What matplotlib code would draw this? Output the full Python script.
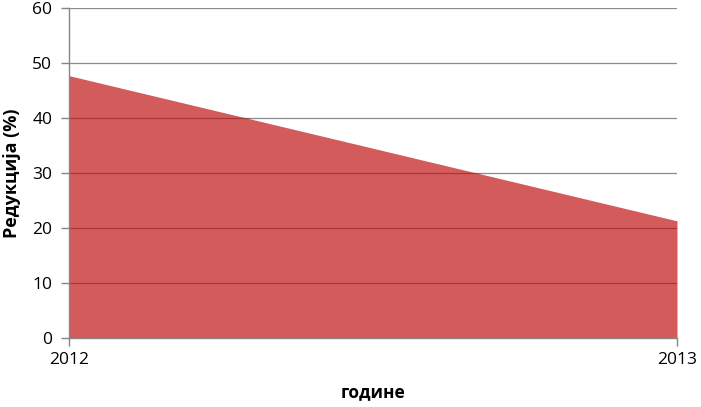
import matplotlib.pyplot as plt

years = [2012, 2013]
reduction = [47.7, 21.3]
y_ticks = [0, 10, 20, 30, 40, 50, 60]

plt.rcParams['font.family'] = ['Open Sans', 'DejaVu Sans']

fig = plt.figure(figsize=(7.01, 4.07), dpi=100)
ax = fig.add_axes([69/701, 1 - 338/407, (677-69)/701, (338-8)/407])

area = ax.fill_between(years, reduction, 0, color='#D45B5B', linewidth=0, zorder=1)
for t in y_ticks[1:]:
    # gray gridline on white, darker red where it crosses the area
    ax.axhline(t, color='#8a8a8a', linewidth=0.9, zorder=0.5)
    ln = ax.axhline(t, color='#a83838', linewidth=0.9, zorder=2)
    ln.set_clip_path(area.get_paths()[0], ax.transData)

ax.set_xlim(2012, 2013)
ax.set_ylim(0, 60)
ax.set_yticks(y_ticks)
ax.set_xticks(years)
ax.set_xticklabels([str(y) for y in years])

for s in ['top', 'right']:
    ax.spines[s].set_visible(False)
for s in ['left', 'bottom']:
    ax.spines[s].set_color('#868686')
    ax.spines[s].set_linewidth(1)
    ax.spines[s].set_zorder(3)

ax.tick_params(axis='both', colors='#868686', labelcolor='black', labelsize=12.5,
               length=6, width=1)
ax.tick_params(axis='y', pad=6)
ax.tick_params(axis='x', pad=4)

ax.set_ylabel('Редукција (%)', fontsize=13, fontweight='bold', labelpad=8)
ax.set_xlabel('године', fontsize=12.5, fontweight='bold', labelpad=11)

fig.savefig('out.png', dpi=100)
